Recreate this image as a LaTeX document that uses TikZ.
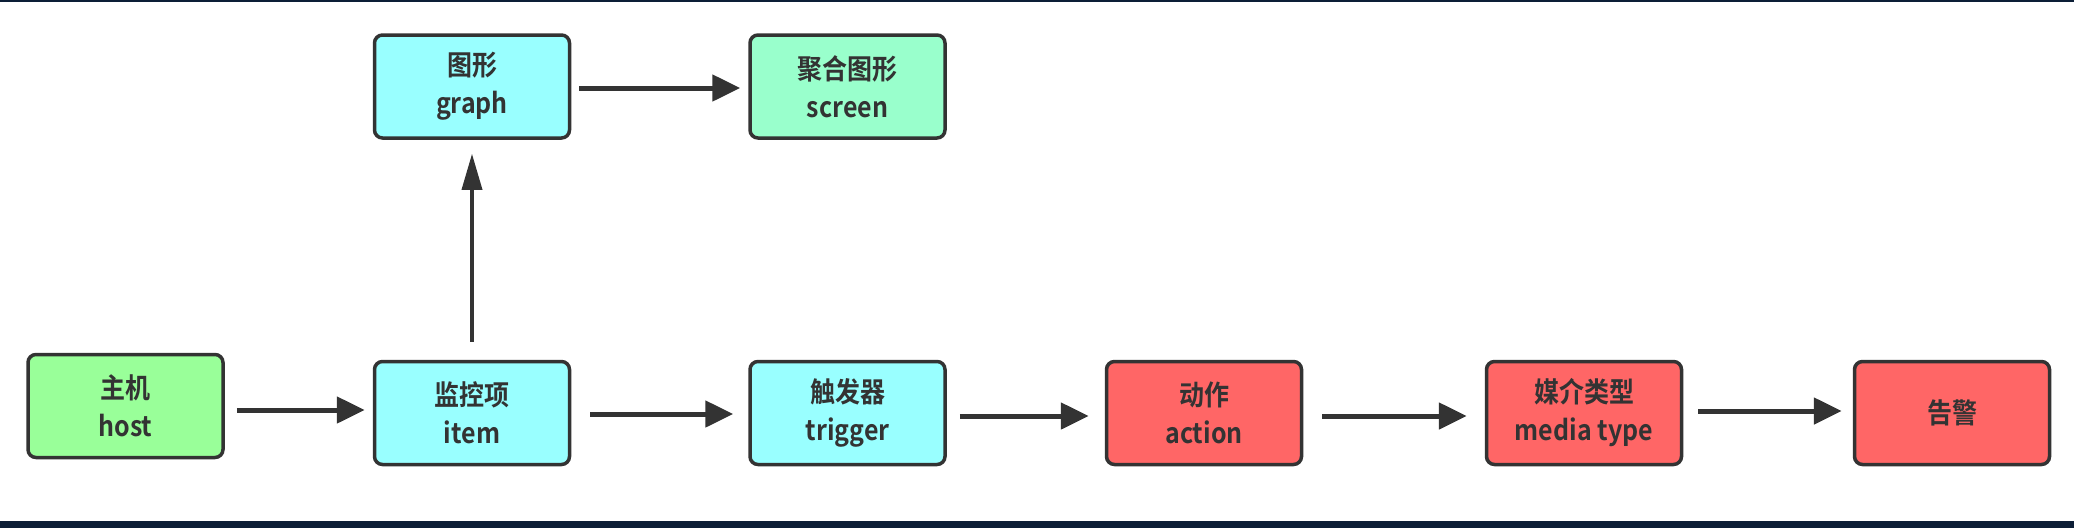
\documentclass[tikz,border=0pt]{standalone}
\usepackage{fontspec}
\setmainfont{Noto Sans CJK SC}[BoldFont={* Bold}]
\usetikzlibrary{arrows.meta}
\definecolor{bordc}{HTML}{333333}
\definecolor{cyanf}{HTML}{99FFFF}
\definecolor{greenf}{HTML}{99FF99}
\definecolor{mintf}{HTML}{99FFCC}
\definecolor{redf}{HTML}{FF6666}
\definecolor{bandc}{HTML}{0C1E36}
\tikzset{
  box/.style={draw=bordc, line width=3.5pt, rounded corners=8pt,
    minimum width=195pt, minimum height=103pt, inner sep=0pt,
    align=center, font=\fontsize{25pt}{38pt}\selectfont\bfseries, text=bordc},
  conn/.style={draw=bordc, line width=5pt, -{Triangle[length=28pt,width=26pt]}},
  vconn/.style={draw=bordc, line width=3.5pt, -{Triangle[length=36pt,width=20pt]}},
}
\begin{document}
\begin{tikzpicture}[x=1pt,y=-1pt]
\useasboundingbox (0,0) rectangle (2074,528);
\fill[bandc] (0,0) rectangle (2074,2);
\fill[bandc] (0,521) rectangle (2074,528);
\node[box, fill=greenf] (host) at (125.5,406) {\scalebox{1}[1.12]{主机}\\\scalebox{1}[1.12]{host}};
\node[box, fill=cyanf] (item) at (472,413) {\scalebox{1}[1.12]{监控项}\\\scalebox{1}[1.12]{item}};
\node[box, fill=cyanf] (graph) at (472,86.5) {\scalebox{1}[1.12]{图形}\\\scalebox{1}[1.12]{graph}};
\node[box, fill=mintf] (screen) at (847.5,86.5) {\scalebox{1}[1.12]{聚合图形}\\\scalebox{1}[1.12]{screen}};
\node[box, fill=cyanf] (trigger) at (847.5,413) {\scalebox{1}[1.12]{触发器}\\\scalebox{1}[1.12]{trigger}};
\node[box, fill=redf] (action) at (1204,413) {\scalebox{1}[1.12]{动作}\\\scalebox{1}[1.12]{action}};
\node[box, fill=redf] (media) at (1584,413) {\scalebox{1}[1.12]{媒介类型}\\\scalebox{1}[1.12]{media type}};
\node[box, fill=redf] (alarm) at (1952,413) {\scalebox{1}[1.12]{告警}};
\draw[conn] ([xshift=12pt]host.east |- 0,410) -- ([xshift=-8pt]item.west |- 0,410);
\draw[vconn] ([yshift=18pt]item.north) -- ([yshift=-14pt]graph.south);
\draw[conn] ([xshift=8pt]graph.east |- 0,88) -- ([xshift=-8pt]screen.west |- 0,88);
\draw[conn] ([xshift=19pt]item.east |- 0,414) -- ([xshift=-15pt]trigger.west |- 0,414);
\draw[conn] ([xshift=13pt]trigger.east |- 0,416) -- ([xshift=-16pt]action.west |- 0,416);
\draw[conn] ([xshift=19pt]action.east |- 0,416) -- ([xshift=-18pt]media.west |- 0,416);
\draw[conn] ([xshift=15pt]media.east |- 0,411) -- ([xshift=-11pt]alarm.west |- 0,411);
\end{tikzpicture}
\end{document}
